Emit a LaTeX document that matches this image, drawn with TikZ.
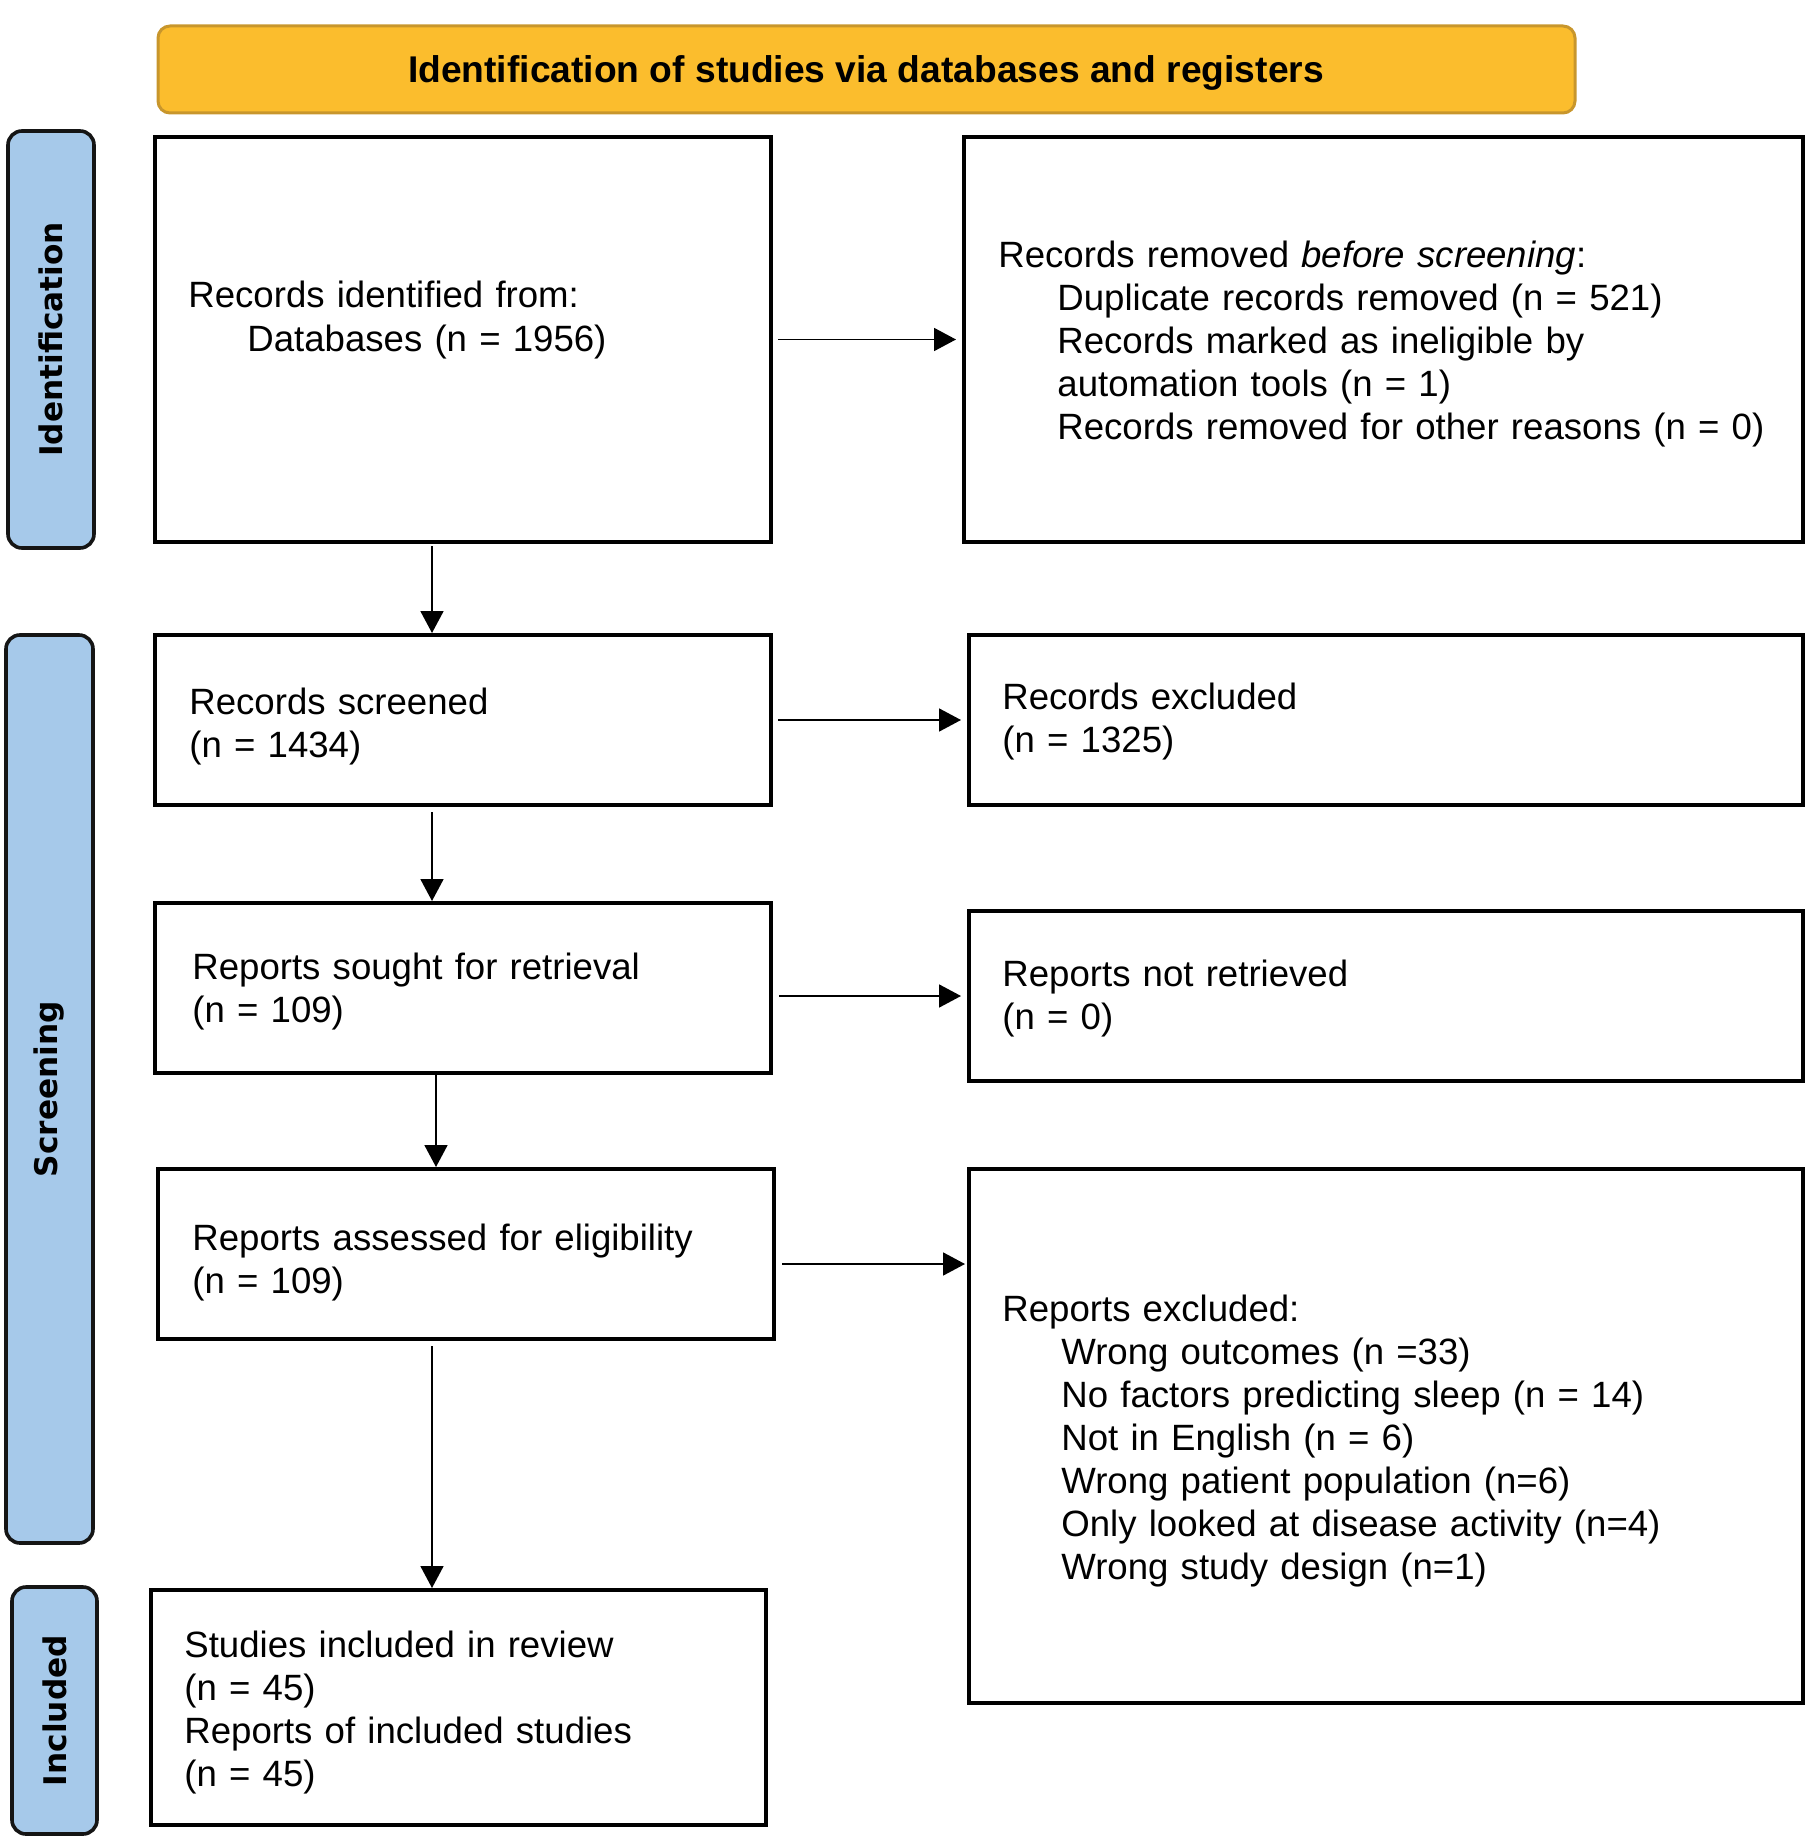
\documentclass[tikz,border=0pt]{standalone}
\usepackage{fontspec}
\setmainfont{Liberation Sans}
\newfontfamily\sidefont{DejaVu Sans}
\usetikzlibrary{arrows.meta,fit}
\definecolor{hdrfill}{HTML}{FBBD2D}
\definecolor{hdrline}{HTML}{C8962C}
\definecolor{sidefill}{HTML}{A6C9EA}
\definecolor{sideline}{HTML}{151515}
\newcommand{\ind}{\hspace*{29.5pt}}
\begin{document}
\begin{tikzpicture}[x=0.5pt,y=-0.5pt,
  box/.style={draw=black, line width=2pt, inner sep=0pt, fit={#1}},
  hdrbox/.style={draw=hdrline, fill=hdrfill, line width=1.5pt, rounded corners=6pt, inner sep=0pt, fit={#1}},
  sidebox/.style={draw=sideline, fill=sidefill, line width=1.8pt, rounded corners=7pt, inner sep=0pt, fit={#1}},
  sidelabel/.style={rotate=90, inner sep=0pt, font=\sidefont\bfseries\fontsize{15.6pt}{18pt}\selectfont},
  txt/.style={anchor=base west, inner sep=0pt, text width=420pt, align=left, font=\fontsize{18.3pt}{21.5pt}\selectfont},
  hdrtxt/.style={anchor=base, inner sep=0pt, font=\bfseries\fontsize{18.6pt}{21.5pt}\selectfont},
  conn/.style={line width=0.9pt, -{Triangle[length=11pt,width=11.5pt]}}]
\useasboundingbox (0,0) rectangle (1812,1840);

% header
\node[hdrbox={(158,26) (1575,113)}] (hdr) {};
\node[hdrtxt] (hdrt) at (866,83) {Identification of studies via databases and registers};

% side bars
\node[sidebox={(8,131) (94,548)}] (s1) {};
\node[sidebox={(6,635) (93,1543)}] (s2) {};
\node[sidebox={(12,1587) (97,1834)}] (s3) {};
\node[sidelabel] (l1) at (s1.center) {Identification};
\node[sidelabel] (l2) at (s2.center) {Screening};
\node[sidelabel] (l3) at (s3.center) {Included};

% boxes
\node[box={(155,137) (771,542)}] (b1) {};
\node[box={(964,137) (1803,542)}] (b2) {};
\node[box={(155,635) (771,805)}] (b3) {};
\node[box={(969,635) (1803,805)}] (b4) {};
\node[box={(155,903) (771,1073)}] (b5) {};
\node[box={(969,911) (1803,1081)}] (b6) {};
\node[box={(158,1169) (774,1339)}] (b7) {};
\node[box={(969,1169) (1803,1703)}] (b8) {};
\node[box={(151,1590) (766,1825)}] (b9) {};

% texts
\node[txt] (t1) at (188,308) {Records identified from:\\ \ind Databases (n = 1956)};
\node[txt] (t2) at (998,268) {Records removed \textit{before screening}:\\
 \ind Duplicate records removed (n = 521)\\
 \ind Records marked as ineligible by\\
 \ind automation tools (n = 1)\\
 \ind Records removed for other reasons (n = 0)};
\node[txt] (t3) at (189,714) {Records screened\\(n = 1434)};
\node[txt] (t4) at (1002,709) {Records excluded\\(n = 1325)};
\node[txt] (t5) at (192,979) {Reports sought for retrieval\\(n = 109)};
\node[txt] (t6) at (1002,986) {Reports not retrieved\\(n = 0)};
\node[txt] (t7) at (192,1250) {Reports assessed for eligibility\\(n = 109)};
\node[txt] (t8) at (1002,1321) {Reports excluded:\\
 \ind Wrong outcomes (n =33)\\
 \ind No factors predicting sleep (n = 14)\\
 \ind Not in English (n = 6)\\
 \ind Wrong patient population (n=6)\\
 \ind Only looked at disease activity (n=4)\\
 \ind Wrong study design (n=1)};
\node[txt] (t9) at (184,1657) {Studies included in review\\(n = 45)\\Reports of included studies\\(n = 45)};

% connectors
\draw[conn, shorten <=2.5pt, shorten >=3pt] (b1.east) -- (b2.west);
\draw[conn, shorten <=2.5pt, shorten >=3pt] (b3.east) -- (b4.west);
\draw[conn, shorten <=3pt, shorten >=3pt] (b5.east |- b6.west) -- (b6.west);
\draw[conn, shorten <=3pt, shorten >=1pt] ([yshift=-5pt]b7.east) -- ([yshift=-5pt]b7.east -| b8.west);
\draw[conn, shorten <=1pt] ([xshift=-15.5pt]b1.south) -- ([xshift=-15.5pt]b1.south |- b3.north);
\draw[conn, shorten <=2.5pt] ([xshift=-15.5pt]b3.south) -- ([xshift=-15.5pt]b3.south |- b5.north);
\draw[conn] ([xshift=-13.5pt]b5.south) -- ([xshift=-13.5pt]b5.south |- b7.north);
\draw[conn, shorten <=2.5pt] ([xshift=-17pt]b7.south) -- ([xshift=-17pt]b7.south |- b9.north);
\end{tikzpicture}
\end{document}
